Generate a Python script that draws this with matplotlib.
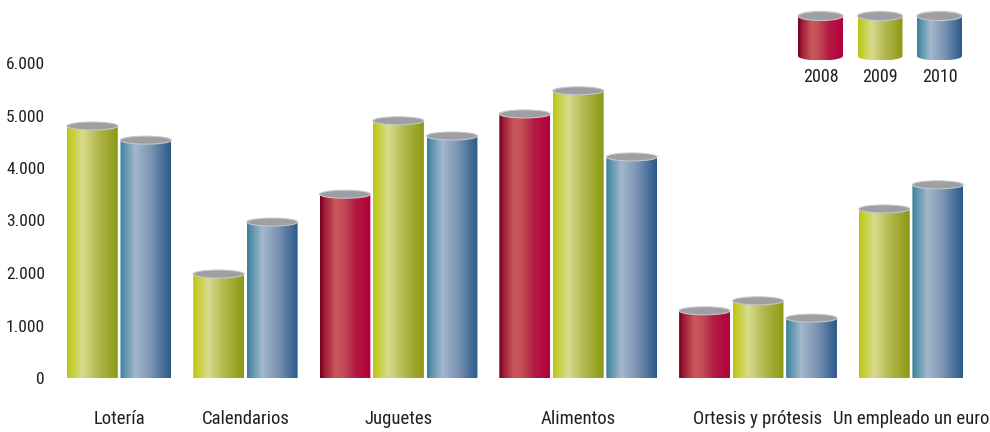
import matplotlib
matplotlib.use("Agg")
import os
import numpy as np
import matplotlib.pyplot as plt
from matplotlib import font_manager
from matplotlib.colors import LinearSegmentedColormap
from matplotlib.patches import Ellipse, PathPatch
from matplotlib.path import Path
from matplotlib.ticker import FuncFormatter

# data (None = no bar for that year)
categories = ["Lotería", "Calendarios", "Juguetes", "Alimentos",
              "Ortesis y prótesis", "Un empleado un euro"]
years = ["2008", "2009", "2010"]
v2008 = [None, None, 3500, 5030, 1280, None]
v2009 = [4800, 1980, 4900, 5470, 1470, 3220]
v2010 = [4530, 2970, 4610, 4210, 1140, 3680]
yticks = [0, 1000, 2000, 3000, 4000, 5000, 6000]

series = [v2008, v2009, v2010]


def pick_condensed():
    files = [f.fname for f in font_manager.fontManager.ttflist]
    prefs = ["LiberationSansNarrow-Regular", "RobotoCondensed-Regular", "OpenSans_Condensed-Regular",
             "OpenSansCondensed", "DejaVuSansCondensed.ttf", "NotoSans-Condensed",
             "NotoSansDisplay-Condensed", "SemiCondensed"]
    for p in prefs:
        for f in files:
            if p in os.path.basename(f) and "Bold" not in f and "Italic" not in f and "Oblique" not in f:
                return f
    for f in files:
        b = os.path.basename(f)
        if ("Condensed" in b or "Narrow" in b) and "Bold" not in b and "Italic" not in b \
                and "Oblique" not in b and "Light" not in b:
            return f
    return None


cf = pick_condensed()
if cf:
    FP = font_manager.FontProperties(fname=cf)
else:
    FP = font_manager.FontProperties(family="DejaVu Sans", stretch="condensed")
TXT = "#231f20"

cmaps = [
    LinearSegmentedColormap.from_list("r", [(0, "#720019"), (0.1, "#a3203b"), (0.3, "#c9575c"),
                                            (0.45, "#c34e57"), (0.7, "#b21a43"), (1, "#b3003b")]),
    LinearSegmentedColormap.from_list("g", [(0, "#b9c31b"), (0.08, "#c6cd2c"), (0.3, "#d8db8f"),
                                            (0.6, "#b4b84f"), (1, "#8c9913")]),
    LinearSegmentedColormap.from_list("b", [(0, "#3c7d99"), (0.1, "#5c95ad"), (0.3, "#a4b8cd"),
                                            (0.6, "#7d95b4"), (1, "#2a598b")]),
]
grad = np.linspace(0, 1, 256).reshape(1, -1)


def cylinder(ax, x0, w, y0, y1, eh, cmap):
    # body with gradient, clipped to rectangle + lower half ellipse
    n = 30
    t = np.linspace(np.pi, 2 * np.pi, n)
    xs = x0 + w / 2 + w / 2 * np.cos(t)
    ys = y0 + eh * np.sin(t)
    verts = [(x0, y1), (x0, y0)] + list(zip(xs, ys)) + [(x0 + w, y1), (x0, y1)]
    codes = [Path.MOVETO] + [Path.LINETO] * (len(verts) - 2) + [Path.CLOSEPOLY]
    clip = PathPatch(Path(verts, codes), facecolor="none", edgecolor="none")
    ax.add_patch(clip)
    im = ax.imshow(grad, cmap=cmap, extent=[x0, x0 + w, y0 - eh, y1],
                   aspect="auto", interpolation="bilinear", zorder=2)
    im.set_clip_path(clip)
    top = Ellipse((x0 + w / 2, y1), w, 2 * eh, facecolor="#9d9fa3",
                  edgecolor="#c4c6c9", lw=0.8, zorder=3)
    ax.add_patch(top)


fig = plt.figure(figsize=(9.9, 4.32), dpi=100)
ax = fig.add_axes([52 / 990, 54 / 432, 1 - 52 / 990, 315 / 432])

bw = 0.95
gap = 0.36
eh = 76
pos = 0.0
centers = []
for ci in range(len(categories)):
    lefts = []
    for si, s in enumerate(series):
        v = s[ci]
        if v is None:
            continue
        cylinder(ax, pos, bw, 0, v, eh, cmaps[si])
        lefts.append(pos)
        pos += 1
    centers.append((lefts[0] + lefts[-1] + bw) / 2)
    pos += gap

ax.set_xlim(-0.28, 17.25)
ax.set_ylim(0, 6000)
ax.set_yticks(yticks)
ax.yaxis.set_major_formatter(FuncFormatter(lambda v, p: f"{int(v):,}".replace(",", ".")))
ax.set_xticks(centers)
ax.set_xticklabels(categories)
ax.tick_params(length=0, colors=TXT)
ax.tick_params(axis="x", pad=23)
ax.tick_params(axis="y", pad=5)
for lab in ax.get_yticklabels():
    lab.set_fontproperties(FP)
    lab.set_fontsize(12.5)
for lab in ax.get_xticklabels():
    lab.set_fontproperties(FP)
    lab.set_fontsize(13.5)
for sp in ax.spines.values():
    sp.set_visible(False)
ax.patch.set_visible(False)

# legend of cylinders, top right
lax = fig.add_axes([0, 0, 1, 1])
lax.set_xlim(0, 990)
lax.set_ylim(0, 432)
lax.axis("off")
for i, (yr, cm) in enumerate(zip(years, cmaps)):
    x0 = 798 + i * 59.5
    cylinder(lax, x0, 45, 376, 416, 4.5, cm)
    lax.text(x0 + 22.5, 355, yr, ha="center", va="center", fontproperties=FP,
             fontsize=13, color=TXT)
lax.set_xlim(0, 990)
lax.set_ylim(0, 432)

fig.savefig("out.png", dpi=100)
